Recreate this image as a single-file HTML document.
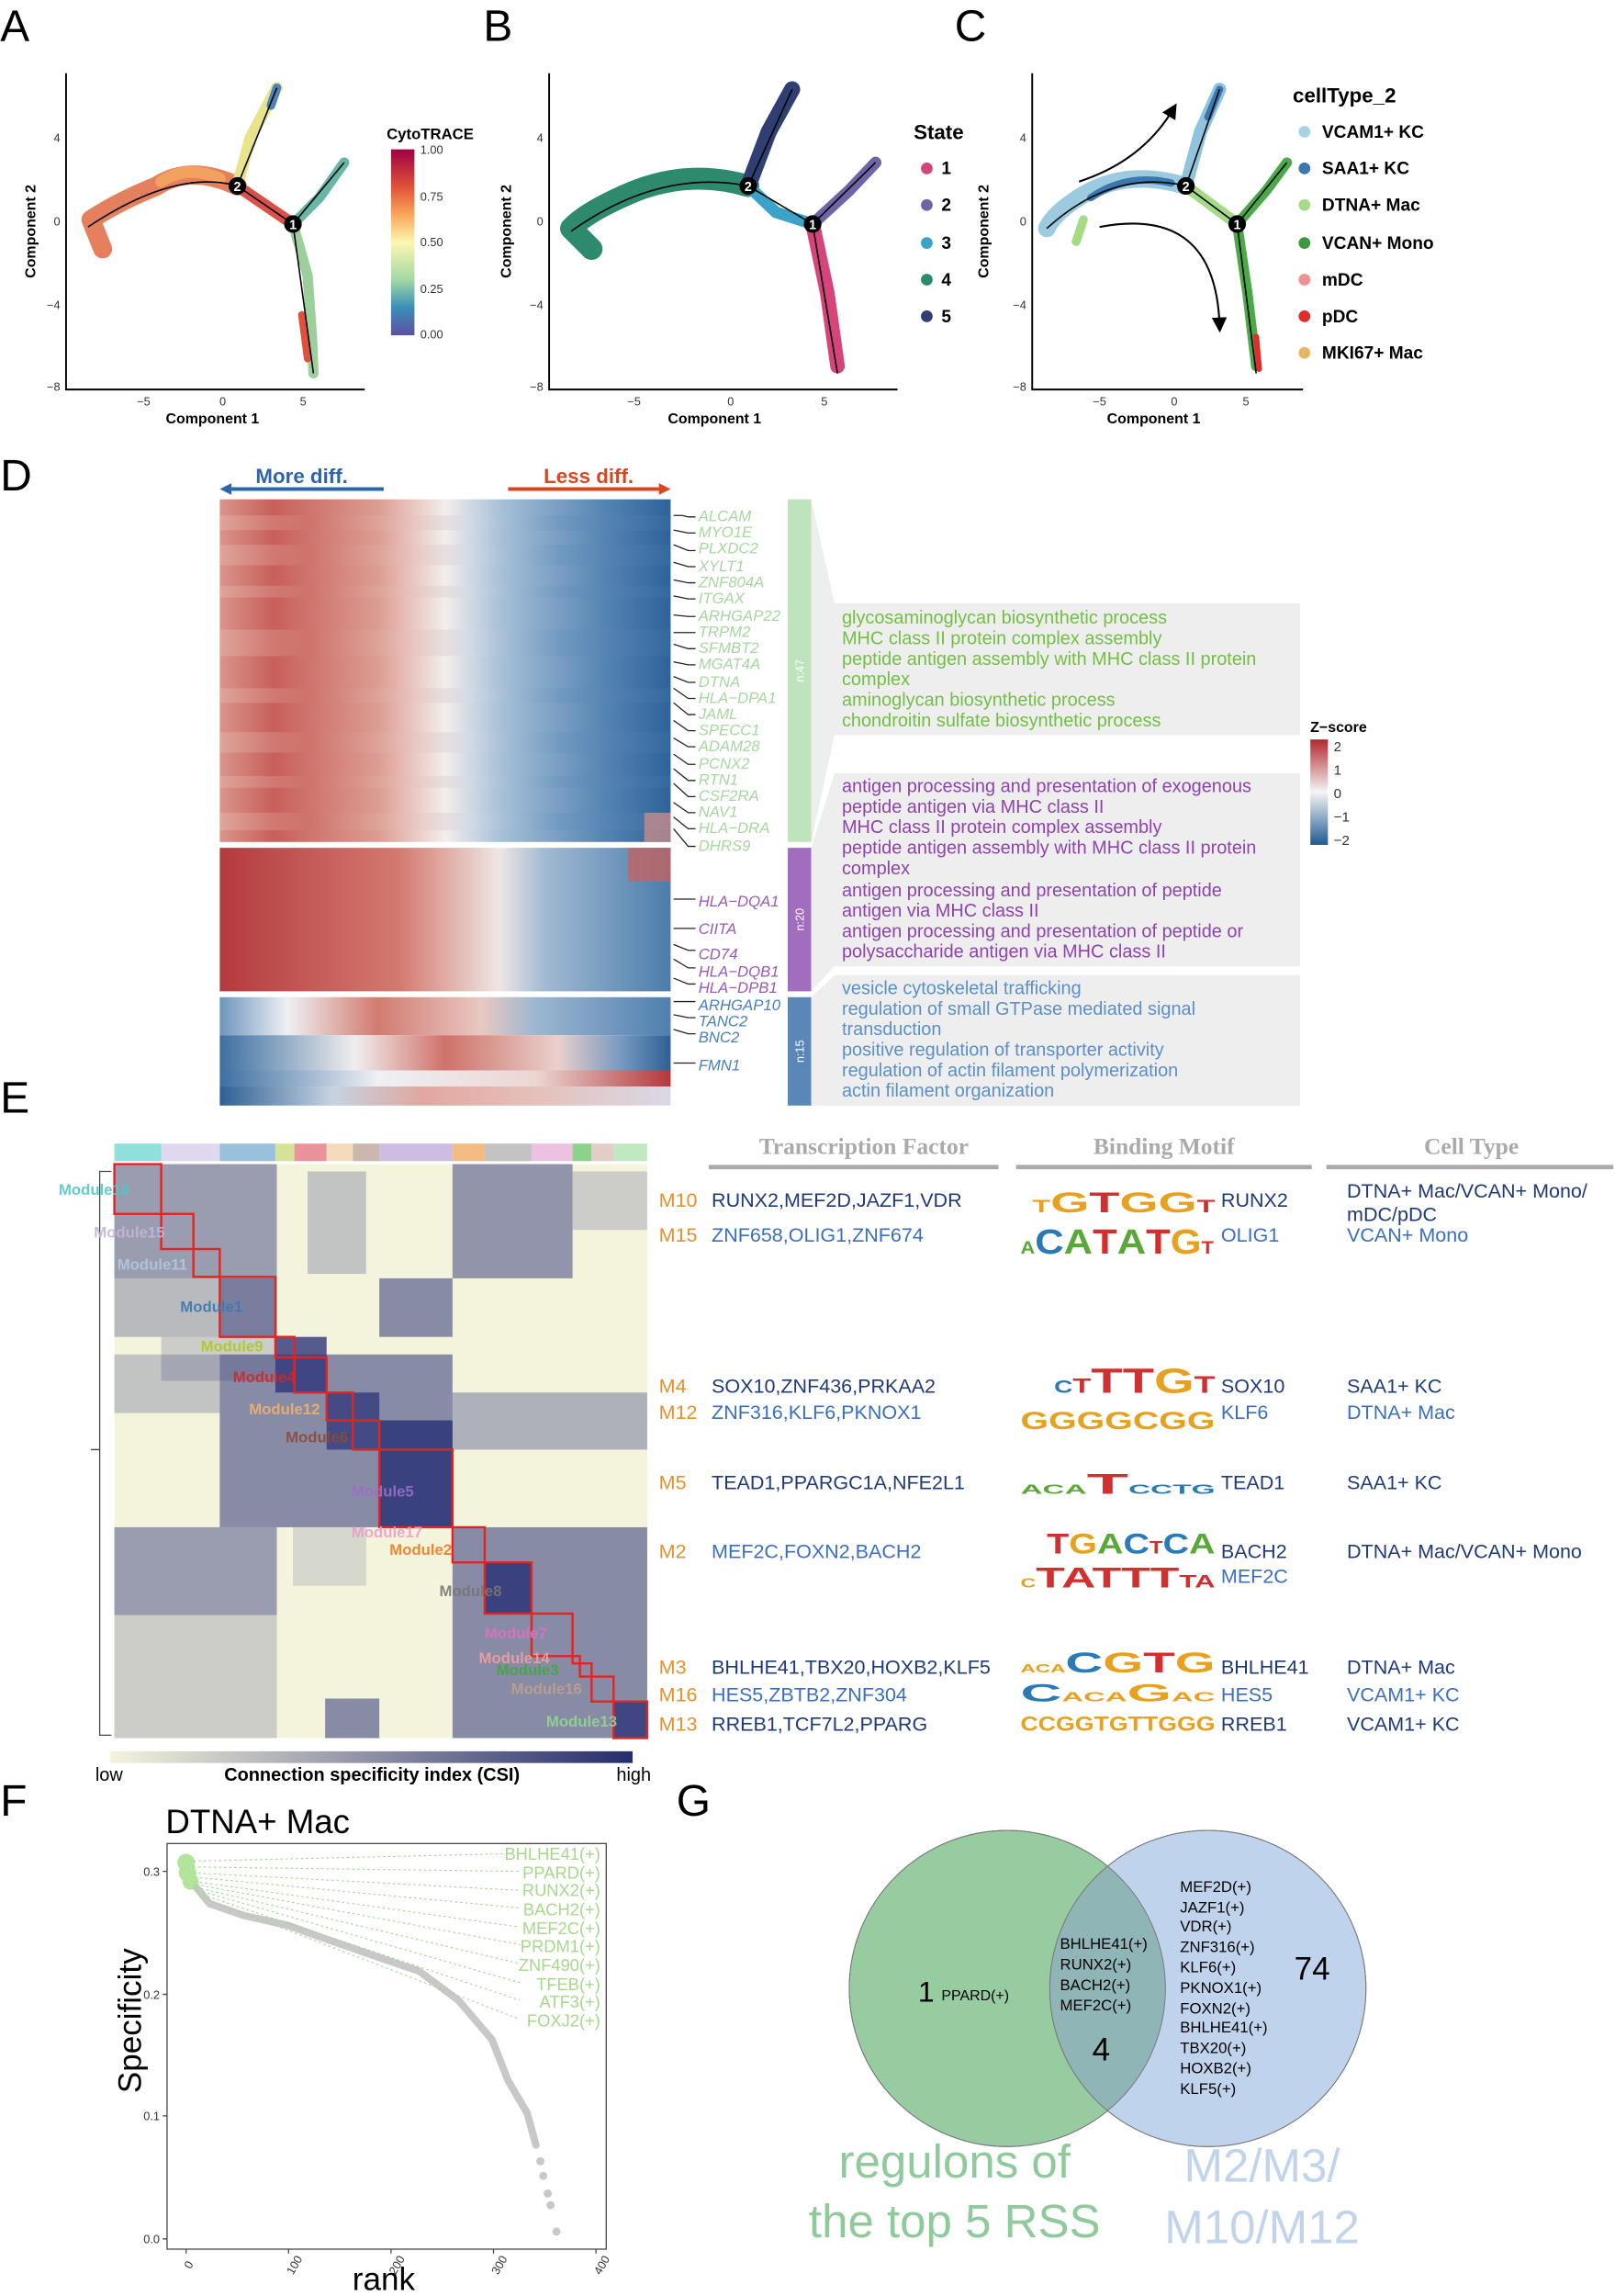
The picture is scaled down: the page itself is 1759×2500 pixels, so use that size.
<!DOCTYPE html>
<html><head><meta charset="utf-8"><style>
html,body{margin:0;padding:0;background:#fff}
svg{display:block;font-family:"Liberation Sans",sans-serif}
</style></head><body>
<svg width="1759" height="2500" viewBox="0 0 1103 1568" xmlns="http://www.w3.org/2000/svg">
<defs>
<linearGradient id="cyto" x1="0" y1="0" x2="0" y2="1">
<stop offset="0" stop-color="#9e0142"/><stop offset="0.2" stop-color="#e0503a"/><stop offset="0.35" stop-color="#f9a65a"/><stop offset="0.5" stop-color="#fdf7b0"/><stop offset="0.7" stop-color="#a3d9a4"/><stop offset="0.85" stop-color="#3a8fba"/><stop offset="1" stop-color="#5e4fa2"/></linearGradient>
<linearGradient id="zs" x1="0" y1="0" x2="0" y2="1">
<stop offset="0" stop-color="#b2282e"/><stop offset="0.5" stop-color="#f5f5f5"/><stop offset="1" stop-color="#1f5a92"/></linearGradient>
<linearGradient id="csi" x1="0" y1="0" x2="1" y2="0">
<stop offset="0" stop-color="#f4f4dc"/><stop offset="1" stop-color="#262c6e"/></linearGradient>
<linearGradient id="h1" x1="150" x2="458" gradientUnits="userSpaceOnUse">
<stop offset="0" stop-color="#d9958a"/><stop offset="0.12" stop-color="#c85f5a"/><stop offset="0.35" stop-color="#dc9c92"/><stop offset="0.5" stop-color="#f3eeec"/><stop offset="0.62" stop-color="#a9c1d8"/><stop offset="0.85" stop-color="#5685b3"/><stop offset="1" stop-color="#2d6399"/></linearGradient>
<linearGradient id="h1b" x1="150" x2="458" gradientUnits="userSpaceOnUse">
<stop offset="0" stop-color="#e3b3aa"/><stop offset="0.2" stop-color="#cf736b"/><stop offset="0.45" stop-color="#e9cbc5"/><stop offset="0.55" stop-color="#d5dde8"/><stop offset="0.75" stop-color="#6e97c0"/><stop offset="1" stop-color="#3a6ea3"/></linearGradient>
<linearGradient id="h2" x1="150" x2="458" gradientUnits="userSpaceOnUse">
<stop offset="0" stop-color="#b43a3f"/><stop offset="0.4" stop-color="#d47a70"/><stop offset="0.62" stop-color="#efe6e4"/><stop offset="0.72" stop-color="#a2bad3"/><stop offset="1" stop-color="#4b7cac"/></linearGradient>
<linearGradient id="h3a" x1="150" x2="458" gradientUnits="userSpaceOnUse">
<stop offset="0" stop-color="#6f95bd"/><stop offset="0.15" stop-color="#eef0f4"/><stop offset="0.35" stop-color="#d27b70"/><stop offset="0.58" stop-color="#e8c8c2"/><stop offset="0.7" stop-color="#9db7d1"/><stop offset="1" stop-color="#4f7fb0"/></linearGradient>
<linearGradient id="h3b" x1="150" x2="458" gradientUnits="userSpaceOnUse">
<stop offset="0" stop-color="#3d6fa2"/><stop offset="0.3" stop-color="#f0eeee"/><stop offset="0.5" stop-color="#cf726a"/><stop offset="0.75" stop-color="#ead0cc"/><stop offset="0.9" stop-color="#6f95bd"/><stop offset="1" stop-color="#2e5f93"/></linearGradient>
<linearGradient id="h3c" x1="150" x2="458" gradientUnits="userSpaceOnUse">
<stop offset="0" stop-color="#3d6fa2"/><stop offset="0.35" stop-color="#eef0f4"/><stop offset="0.7" stop-color="#ecd6d2"/><stop offset="1" stop-color="#b3383c"/></linearGradient>
<linearGradient id="h3d" x1="150" x2="458" gradientUnits="userSpaceOnUse">
<stop offset="0" stop-color="#2e5f93"/><stop offset="0.25" stop-color="#c6d3e2"/><stop offset="0.45" stop-color="#e0a8a0"/><stop offset="0.7" stop-color="#e6c0ba"/><stop offset="1" stop-color="#d9d9e6"/></linearGradient>
<marker id="ar" markerWidth="8" markerHeight="8" refX="4" refY="4" orient="auto"><path d="M0,0 L8,4 L0,8 Z" fill="#000"/></marker>
</defs>

<g font-size="30" fill="#000">
<text x="0" y="28">A</text><text x="330" y="28">B</text><text x="652" y="28">C</text>
<text x="0" y="335">D</text><text x="0" y="760">E</text><text x="0" y="1240">F</text><text x="462" y="1240">G</text>
</g>

<g stroke="#000" stroke-width="1.2" fill="none">
<path d="M45,50 V266 H249"/><path d="M375,50 V266 H613"/><path d="M705,50 V266 H890"/>
</g>
<g font-size="8" fill="#333" text-anchor="middle">
<text x="98" y="277">−5</text><text x="152" y="277">0</text><text x="207" y="277">5</text>
<text x="433" y="277">−5</text><text x="499" y="277">0</text><text x="563" y="277">5</text>
<text x="751" y="277">−5</text><text x="802" y="277">0</text><text x="851" y="277">5</text>
</g>
<g font-size="8" fill="#333" text-anchor="end">
<text x="41" y="97">4</text><text x="41" y="154">0</text><text x="41" y="211">−4</text><text x="41" y="267">−8</text>
<text x="371" y="97">4</text><text x="371" y="154">0</text><text x="371" y="211">−4</text><text x="371" y="267">−8</text>
<text x="701" y="97">4</text><text x="701" y="154">0</text><text x="701" y="211">−4</text><text x="701" y="267">−8</text>
</g>
<g font-size="10" font-weight="bold" fill="#000" text-anchor="middle">
<text x="145" y="289">Component 1</text><text x="488" y="289">Component 1</text><text x="788" y="289">Component 1</text>
<text transform="translate(24,158) rotate(-90)">Component 2</text>
<text transform="translate(349,158) rotate(-90)">Component 2</text>
<text transform="translate(675,158) rotate(-90)">Component 2</text>
</g>
<g fill="none" stroke-linecap="round" stroke-linejoin="round">
<path d="M162,127 Q130,112 107,127 Q80,138 62,150 L70,170" stroke="#e06a42" stroke-width="13" opacity="0.85"/>
<path d="M150,122 Q128,112 110,124" stroke="#f2a25e" stroke-width="8"/>
<path d="M162,127 L171,94 L189,60" stroke="#e8e48c" stroke-width="8"/>
<path d="M185,72 L189,60" stroke="#4d84b9" stroke-width="6"/>
<path d="M162,127 L200,153" stroke="#d8524a" stroke-width="8"/>
<path d="M200,153 L218,135 L235,111" stroke="#68b6a8" stroke-width="7"/>
<path d="M200,153 L210,188 L213,230 L214,255" stroke="#9ccf9c" stroke-width="7"/>
<path d="M206,215 L210,245" stroke="#e0503a" stroke-width="5"/>
</g>
<g stroke="#000" stroke-width="1" fill="none"><path d="M162,127 L200,153 L214,255 M162,127 L189,60 M200,153 L235,111 M162,127 Q120,115 60,155"/></g>
<circle cx="162" cy="127" r="6" fill="#000"/><text x="162" y="130.5" font-size="9" fill="#fff" text-anchor="middle" font-weight="bold">2</text>
<circle cx="200" cy="153" r="6" fill="#000"/><text x="200" y="156.5" font-size="9" fill="#fff" text-anchor="middle" font-weight="bold">1</text>
<text x="264" y="95" font-size="10.5" font-weight="bold">CytoTRACE</text>
<rect x="267" y="102" width="16" height="127" fill="url(#cyto)"/>
<g font-size="8" fill="#333"><text x="287" y="105">1.00</text><text x="287" y="137">0.75</text><text x="287" y="168">0.50</text><text x="287" y="200">0.25</text><text x="287" y="231">0.00</text></g>

<g fill="none" stroke-linecap="round" stroke-linejoin="round">
<path d="M511,127 Q470,115 430,132 Q400,145 390,156 L404,170" stroke="#2e8a6f" stroke-width="15"/>
<path d="M511,127 L525,90 L541,61" stroke="#2f3f74" stroke-width="11"/>
<path d="M511,127 L530,145 L555,153" stroke="#3ba3c8" stroke-width="8"/>
<path d="M555,153 L580,130 L598,111" stroke="#6f64a8" stroke-width="8"/>
<path d="M555,153 L565,200 L572,250" stroke="#d6447c" stroke-width="10"/>
</g>
<g stroke="#000" stroke-width="1" fill="none"><path d="M511,127 L555,153 L572,255 M511,127 L541,61 M555,153 L598,111 M511,127 Q450,115 390,158"/></g>
<circle cx="511" cy="127" r="6" fill="#000"/><text x="511" y="130.5" font-size="9" fill="#fff" text-anchor="middle" font-weight="bold">2</text>
<circle cx="555" cy="153" r="6" fill="#000"/><text x="555" y="156.5" font-size="9" fill="#fff" text-anchor="middle" font-weight="bold">1</text>
<text x="624" y="95" font-size="14" font-weight="bold">State</text>
<g font-size="12" font-weight="bold">
<circle cx="633" cy="115" r="4" fill="#d6447c"/><text x="643" y="119">1</text>
<circle cx="633" cy="140" r="4" fill="#6f64a8"/><text x="643" y="144">2</text>
<circle cx="633" cy="166" r="4" fill="#3ba3c8"/><text x="643" y="170">3</text>
<circle cx="633" cy="191" r="4" fill="#2e8a6f"/><text x="643" y="195">4</text>
<circle cx="633" cy="216" r="4" fill="#2f3f74"/><text x="643" y="220">5</text>
</g>

<g fill="none" stroke-linecap="round" stroke-linejoin="round">
<path d="M810,127 Q770,115 740,133 Q720,145 715,156" stroke="#9ccbe0" stroke-width="12"/>
<path d="M800,125 Q770,118 745,135" stroke="#3b78b0" stroke-width="5"/>
<path d="M740,150 L735,165" stroke="#a6db86" stroke-width="6"/>
<path d="M810,127 L820,90 L833,61" stroke="#8fc4de" stroke-width="9"/>
<path d="M825,80 L833,61" stroke="#3b78b0" stroke-width="5"/>
<path d="M810,127 L845,153" stroke="#a6db86" stroke-width="8"/>
<path d="M845,153 L865,130 L879,111" stroke="#4ba94a" stroke-width="7"/>
<path d="M845,153 L852,200 L858,250" stroke="#4ba94a" stroke-width="7"/>
<path d="M858,230 L860,252" stroke="#e22b2b" stroke-width="4"/>
</g>
<g stroke="#000" stroke-width="1" fill="none"><path d="M810,127 L845,153 L858,255 M810,127 L833,61 M845,153 L879,111 M810,127 Q760,115 715,156"/></g>
<circle cx="810" cy="127" r="6" fill="#000"/><text x="810" y="130.5" font-size="9" fill="#fff" text-anchor="middle" font-weight="bold">2</text>
<circle cx="845" cy="153" r="6" fill="#000"/><text x="845" y="156.5" font-size="9" fill="#fff" text-anchor="middle" font-weight="bold">1</text>
<path d="M737,124 Q780,110 801,75" stroke="#000" stroke-width="1.3" fill="none" marker-end="url(#ar)"/>
<path d="M751,155 Q830,140 833,222" stroke="#000" stroke-width="1.3" fill="none" marker-end="url(#ar)"/>
<text x="883" y="70" font-size="14" font-weight="bold">cellType_2</text>
<g font-size="12" font-weight="bold">
<circle cx="891" cy="90" r="4" fill="#a6d2e3"/><text x="903" y="94">VCAM1+ KC</text>
<circle cx="891" cy="115" r="4" fill="#3b78b0"/><text x="903" y="119">SAA1+ KC</text>
<circle cx="891" cy="140" r="4" fill="#a6db86"/><text x="903" y="144">DTNA+ Mac</text>
<circle cx="891" cy="166" r="4" fill="#3c9a3c"/><text x="903" y="170">VCAN+ Mono</text>
<circle cx="891" cy="191" r="4" fill="#ef9095"/><text x="903" y="195">mDC</text>
<circle cx="891" cy="216" r="4" fill="#e22b2b"/><text x="903" y="220">pDC</text>
<circle cx="891" cy="241" r="4" fill="#e8b466"/><text x="903" y="245">MKI67+ Mac</text>
</g>

<!-- Panel D -->
<path d="M262,334 H158" stroke="#2d65a8" stroke-width="2.5"/><path d="M150,334 L158,330 L158,338 Z" fill="#2d65a8"/>
<text x="206" y="330" font-size="14" font-weight="bold" fill="#2d65a8" text-anchor="middle">More diff.</text>
<path d="M347,334 H450" stroke="#d4471f" stroke-width="2.5"/><path d="M458,334 L450,330 L450,338 Z" fill="#d4471f"/>
<text x="402" y="330" font-size="14" font-weight="bold" fill="#d4471f" text-anchor="middle">Less diff.</text>
<rect x="150" y="341" width="308" height="234" fill="url(#h1)"/>
<g opacity="0.55">
<rect x="150" y="352" width="308" height="10" fill="url(#h1b)"/>
<rect x="150" y="372" width="308" height="14" fill="url(#h1b)"/>
<rect x="150" y="400" width="308" height="8" fill="url(#h1b)"/>
<rect x="150" y="430" width="308" height="18" fill="url(#h1b)"/>
<rect x="150" y="470" width="308" height="10" fill="url(#h1b)"/>
<rect x="150" y="500" width="308" height="14" fill="url(#h1b)"/>
<rect x="150" y="530" width="308" height="8" fill="url(#h1b)"/>
<rect x="150" y="555" width="308" height="12" fill="url(#h1b)"/>
</g>
<rect x="440" y="555" width="18" height="20" fill="#d99088" opacity="0.7"/>
<rect x="150" y="579" width="308" height="98" fill="url(#h2)"/>
<rect x="429" y="579" width="29" height="23" fill="#c9625d" opacity="0.75"/>
<rect x="150" y="681" width="308" height="26" fill="url(#h3a)"/>
<rect x="150" y="707" width="308" height="24" fill="url(#h3b)"/>
<rect x="150" y="731" width="308" height="11" fill="url(#h3c)"/>
<rect x="150" y="742" width="308" height="13" fill="url(#h3d)"/>
<g font-size="10.5" font-style="italic" fill="#a7d7a0">
<text x="477" y="356">ALCAM</text><text x="477" y="367">MYO1E</text><text x="477" y="378">PLXDC2</text><text x="477" y="390">XYLT1</text><text x="477" y="401">ZNF804A</text><text x="477" y="412">ITGAX</text><text x="477" y="424">ARHGAP22</text><text x="477" y="435">TRPM2</text><text x="477" y="446">SFMBT2</text><text x="477" y="457">MGAT4A</text><text x="477" y="469">DTNA</text><text x="477" y="480">HLA−DPA1</text><text x="477" y="491">JAML</text><text x="477" y="502">SPECC1</text><text x="477" y="513">ADAM28</text><text x="477" y="525">PCNX2</text><text x="477" y="536">RTN1</text><text x="477" y="547">CSF2RA</text><text x="477" y="558">NAV1</text><text x="477" y="569">HLA−DRA</text><text x="477" y="581">DHRS9</text>
</g>
<g stroke="#222" stroke-width="0.8" fill="none">
<path d="M460,352 H466 L470,353 H475 M460,362 L470,364 H475 M460,372 L470,376 H475 M460,384 L470,387 H475 M460,396 L470,398 H475 M460,407 L470,409 H475 M460,420 L470,421 H475 M460,432 L470,432 H475 M460,440 L470,443 H475 M460,452 L470,454 H475 M460,462 L470,466 H475 M460,470 L470,477 H475 M460,480 L470,488 H475 M460,492 L470,499 H475 M460,504 L470,510 H475 M460,515 L470,522 H475 M460,525 L470,533 H475 M460,535 L470,544 H475 M460,548 L470,555 H475 M460,558 L470,566 H475 M460,566 L470,578 H475"/>
<path d="M460,614 H475 M460,634 H475 M460,645 L470,649 H475 M460,655 L470,661 H475 M460,668 L470,672 H475 M460,684 L470,684 H475 M460,693 L470,695 H475 M460,703 L470,706 H475 M460,726 H475"/>
</g>
<g font-size="10.5" font-style="italic" fill="#9b59b6">
<text x="477" y="619">HLA−DQA1</text><text x="477" y="638">CIITA</text><text x="477" y="655">CD74</text><text x="477" y="667">HLA−DQB1</text><text x="477" y="678">HLA−DPB1</text>
</g>
<g font-size="10.5" font-style="italic" fill="#4a7fbf">
<text x="477" y="690">ARHGAP10</text><text x="477" y="701">TANC2</text><text x="477" y="712">BNC2</text><text x="477" y="731">FMN1</text>
</g>
<rect x="538" y="341" width="16" height="234" fill="#bfe3bb"/>
<rect x="538" y="579" width="16" height="98" fill="#a36dbf"/>
<rect x="538" y="681" width="16" height="74" fill="#5a86b8"/>
<g font-size="8" fill="#fff" text-anchor="middle">
<text transform="translate(549,458) rotate(-90)">n:47</text>
<text transform="translate(549,628) rotate(-90)">n:20</text>
<text transform="translate(549,718) rotate(-90)">n:15</text>
</g>
<g fill="#eeeeee">
<path d="M554,341 L570,412 V502 L554,575 Z"/>
<rect x="570" y="412" width="318" height="90"/>
<path d="M554,579 L570,528 V660 L554,677 Z"/>
<rect x="570" y="528" width="318" height="132"/>
<path d="M554,681 L570,666 V755 L554,755 Z"/>
<rect x="570" y="666" width="318" height="89"/>
</g>
<g font-size="12.5" fill="#72bf44">
<text x="575" y="426">glycosaminoglycan biosynthetic process</text>
<text x="575" y="440">MHC class II protein complex assembly</text>
<text x="575" y="454">peptide antigen assembly with MHC class II protein</text>
<text x="575" y="468">complex</text>
<text x="575" y="482">aminoglycan biosynthetic process</text>
<text x="575" y="496">chondroitin sulfate biosynthetic process</text>
</g>
<g font-size="12.5" fill="#8e44ad">
<text x="575" y="541">antigen processing and presentation of exogenous</text>
<text x="575" y="555">peptide antigen via MHC class II</text>
<text x="575" y="569">MHC class II protein complex assembly</text>
<text x="575" y="583">peptide antigen assembly with MHC class II protein</text>
<text x="575" y="597">complex</text>
<text x="575" y="612">antigen processing and presentation of peptide</text>
<text x="575" y="626">antigen via MHC class II</text>
<text x="575" y="640">antigen processing and presentation of peptide or</text>
<text x="575" y="654">polysaccharide antigen via MHC class II</text>
</g>
<g font-size="12.5" fill="#5b8fc8">
<text x="575" y="679">vesicle cytoskeletal trafficking</text>
<text x="575" y="693">regulation of small GTPase mediated signal</text>
<text x="575" y="707">transduction</text>
<text x="575" y="721">positive regulation of transporter activity</text>
<text x="575" y="735">regulation of actin filament polymerization</text>
<text x="575" y="749">actin filament organization</text>
</g>
<text x="895" y="500" font-size="10" font-weight="bold">Z−score</text>
<rect x="895" y="505" width="12" height="72" fill="url(#zs)"/>
<g font-size="9.5" fill="#333"><text x="911" y="513">2</text><text x="911" y="529">1</text><text x="911" y="545">0</text><text x="911" y="561">−1</text><text x="911" y="577">−2</text></g>

<!-- Panel E heatmap -->
<rect x="78" y="795" width="364" height="392" fill="#f4f4dc"/>
<g fill="#2d3478">
<rect x="78" y="795" width="111" height="78" opacity="0.45"/>
<rect x="309" y="795" width="82" height="78" opacity="0.5"/>
<rect x="391" y="800" width="51" height="40" opacity="0.2"/>
<rect x="210" y="800" width="40" height="70" opacity="0.25"/>
<rect x="78" y="873" width="111" height="40" opacity="0.3"/>
<rect x="259" y="873" width="50" height="40" opacity="0.55"/>
<rect x="150" y="925" width="159" height="118" opacity="0.55"/>
<rect x="78" y="925" width="72" height="40" opacity="0.25"/>
<rect x="259" y="970" width="50" height="73" opacity="0.85"/>
<rect x="188" y="913" width="35" height="38" opacity="0.8"/>
<rect x="223" y="951" width="36" height="39" opacity="0.75"/>
<rect x="309" y="951" width="133" height="39" opacity="0.35"/>
<rect x="78" y="1043" width="111" height="60" opacity="0.45"/>
<rect x="78" y="1103" width="111" height="84" opacity="0.2"/>
<rect x="309" y="1043" width="133" height="144" opacity="0.55"/>
<rect x="331" y="1067" width="32" height="35" opacity="0.85"/>
<rect x="222" y="1160" width="37" height="27" opacity="0.55"/>
<rect x="419" y="1162" width="23" height="25" opacity="0.8"/>
<rect x="200" y="1043" width="50" height="40" opacity="0.15"/>
<rect x="150" y="873" width="39" height="40" opacity="0.45"/>
<rect x="110" y="913" width="78" height="30" opacity="0.2"/>
</g>
<g fill="none" stroke="#e8231f" stroke-width="1.5">
<rect x="78" y="795" width="32" height="34"/><rect x="110" y="829" width="22" height="24"/><rect x="132" y="853" width="18" height="19"/><rect x="150" y="872" width="38" height="41"/><rect x="188" y="913" width="13" height="14"/><rect x="201" y="927" width="22" height="24"/><rect x="223" y="951" width="18" height="19"/><rect x="241" y="970" width="18" height="20"/><rect x="259" y="990" width="50" height="53"/><rect x="309" y="1043" width="22" height="24"/><rect x="331" y="1067" width="32" height="35"/><rect x="363" y="1102" width="28" height="29"/><rect x="391" y="1131" width="5" height="5"/><rect x="396" y="1136" width="8" height="9"/><rect x="404" y="1145" width="15" height="17"/><rect x="419" y="1162" width="23" height="25"/>
</g>
<g opacity="0.7">
<rect x="78" y="781" width="32" height="12" fill="#5fd3d0"/><rect x="110" y="781" width="40" height="12" fill="#d4c8e8"/><rect x="150" y="781" width="38" height="12" fill="#6fa7cf"/><rect x="188" y="781" width="13" height="12" fill="#c6d66c"/><rect x="201" y="781" width="22" height="12" fill="#e0656e"/><rect x="223" y="781" width="18" height="12" fill="#f2cda0"/><rect x="241" y="781" width="18" height="12" fill="#b79a8c"/><rect x="259" y="781" width="50" height="12" fill="#b8a0d8"/><rect x="309" y="781" width="22" height="12" fill="#f0a050"/><rect x="331" y="781" width="32" height="12" fill="#aaaaaa"/><rect x="363" y="781" width="28" height="12" fill="#e8a8d8"/><rect x="391" y="781" width="13" height="12" fill="#5bbf5b"/><rect x="404" y="781" width="15" height="12" fill="#d8b8b0"/><rect x="419" y="781" width="23" height="12" fill="#a8e0a8"/>
</g>
<path d="M76,800 H68 V1185 H76 M68,990 H62" stroke="#444" stroke-width="0.8" fill="none"/>
<g font-size="10.5" font-weight="bold" opacity="0.9">
<text x="40" y="816" fill="#4fc8c8">Module10</text><text x="64" y="845" fill="#c4b4dc">Module15</text><text x="80" y="867" fill="#b0c8e0">Module11</text><text x="123" y="896" fill="#3b78b0">Module1</text><text x="137" y="923" fill="#b0c820">Module9</text><text x="159" y="944" fill="#d02828">Module4</text><text x="170" y="966" fill="#f0b070">Module12</text><text x="195" y="985" fill="#8b4a3a">Module6</text><text x="240" y="1022" fill="#9b6fc8">Module5</text><text x="240" y="1050" fill="#e8a0c8">Module17</text><text x="266" y="1062" fill="#f07a20">Module2</text><text x="300" y="1090" fill="#777">Module8</text><text x="331" y="1119" fill="#e070c0">Module7</text><text x="327" y="1136" fill="#f0a0a0">Module14</text><text x="339" y="1144" fill="#40a840">Module3</text><text x="349" y="1157" fill="#c0a090">Module16</text><text x="373" y="1179" fill="#90d890">Module13</text>
</g>
<rect x="75" y="1196" width="357" height="8" fill="url(#csi)"/>
<text x="65" y="1216" font-size="12.5">low</text>
<text x="254" y="1216" font-size="12.5" font-weight="bold" text-anchor="middle">Connection specificity index (CSI)</text>
<text x="421" y="1216" font-size="12.5">high</text>

<!-- E table -->
<g font-family="Liberation Serif,serif" font-size="16" fill="#aaa" text-anchor="middle" font-weight="bold">
<text x="590" y="788">Transcription Factor</text><text x="795" y="788">Binding Motif</text><text x="1005" y="788">Cell Type</text>
</g>
<g stroke="#aaa" stroke-width="3"><path d="M484,797 H682 M694,797 H896 M906,797 H1102"/></g>
<g font-size="13.5">
<g fill="#e9902a"><text x="450" y="824">M10</text><text x="450" y="848">M15</text><text x="450" y="951">M4</text><text x="450" y="969">M12</text><text x="450" y="1017">M5</text><text x="450" y="1064">M2</text><text x="450" y="1143">M3</text><text x="450" y="1162">M16</text><text x="450" y="1182">M13</text></g>
<text x="486" y="824" fill="#1f3a78">RUNX2,MEF2D,JAZF1,VDR</text>
<text x="486" y="848" fill="#3a6fc0">ZNF658,OLIG1,ZNF674</text>
<text x="486" y="951" fill="#1f3a78">SOX10,ZNF436,PRKAA2</text>
<text x="486" y="969" fill="#3a6fc0">ZNF316,KLF6,PKNOX1</text>
<text x="486" y="1017" fill="#1f3a78">TEAD1,PPARGC1A,NFE2L1</text>
<text x="486" y="1064" fill="#3a6fc0">MEF2C,FOXN2,BACH2</text>
<text x="486" y="1143" fill="#1f3a78">BHLHE41,TBX20,HOXB2,KLF5</text>
<text x="486" y="1162" fill="#3a6fc0">HES5,ZBTB2,ZNF304</text>
<text x="486" y="1182" fill="#1f3a78">RREB1,TCF7L2,PPARG</text>
<g fill="#1f3a78"><text x="834" y="824">RUNX2</text><text x="834" y="951">SOX10</text><text x="834" y="1017">TEAD1</text><text x="834" y="1064">BACH2</text><text x="834" y="1143">BHLHE41</text><text x="834" y="1182">RREB1</text></g>
<g fill="#3a6fc0"><text x="834" y="848">OLIG1</text><text x="834" y="969">KLF6</text><text x="834" y="1081">MEF2C</text><text x="834" y="1162">HES5</text></g>
<g fill="#1f3a78"><text x="920" y="818">DTNA+ Mac/VCAN+ Mono/</text><text x="920" y="834">mDC/pDC</text><text x="920" y="951">SAA1+ KC</text><text x="920" y="1017">SAA1+ KC</text><text x="920" y="1064">DTNA+ Mac/VCAN+ Mono</text><text x="920" y="1143">DTNA+ Mac</text><text x="920" y="1182">VCAM1+ KC</text></g>
<g fill="#3a6fc0"><text x="920" y="848">VCAN+ Mono</text><text x="920" y="969">DTNA+ Mac</text><text x="920" y="1162">VCAM1+ KC</text></g>
</g>
<g font-weight="bold">
<text x="705" y="828" font-size="20" textLength="125" lengthAdjust="spacingAndGlyphs"><tspan fill="#e8a020" font-size="12">T</tspan><tspan fill="#e8a020">G</tspan><tspan fill="#d03030">T</tspan><tspan fill="#e8a020">GG</tspan><tspan fill="#d03030" font-size="12">T</tspan></text>
<text x="697" y="856" font-size="24" textLength="132" lengthAdjust="spacingAndGlyphs"><tspan fill="#5aa83a" font-size="12">A</tspan><tspan fill="#2a7ab8">C</tspan><tspan fill="#5aa83a">A</tspan><tspan fill="#d03030">T</tspan><tspan fill="#5aa83a">A</tspan><tspan fill="#d03030">T</tspan><tspan fill="#e8a020">G</tspan><tspan fill="#d03030" font-size="12">T</tspan></text>
<text x="720" y="951" font-size="24" textLength="110" lengthAdjust="spacingAndGlyphs"><tspan fill="#2a7ab8" font-size="12">C</tspan><tspan fill="#d03030" font-size="14">T</tspan><tspan fill="#d03030">TT</tspan><tspan fill="#e8a020">G</tspan><tspan fill="#d03030" font-size="16">T</tspan></text>
<text x="697" y="976" font-size="17" textLength="133" lengthAdjust="spacingAndGlyphs" fill="#e8a020">GGGGCGG</text>
<text x="697" y="1020" font-size="20" textLength="133" lengthAdjust="spacingAndGlyphs"><tspan fill="#5aa83a" font-size="9">ACA</tspan><tspan fill="#d03030">T</tspan><tspan fill="#2a7ab8" font-size="9">CCTG</tspan></text>
<text x="715" y="1061" font-size="20" textLength="115" lengthAdjust="spacingAndGlyphs"><tspan fill="#d03030">T</tspan><tspan fill="#e8a020">G</tspan><tspan fill="#5aa83a">A</tspan><tspan fill="#2a7ab8">C</tspan><tspan fill="#d03030" font-size="12">T</tspan><tspan fill="#2a7ab8">C</tspan><tspan fill="#5aa83a">A</tspan></text>
<text x="697" y="1084" font-size="20" textLength="133" lengthAdjust="spacingAndGlyphs"><tspan fill="#e8a020" font-size="9">C</tspan><tspan fill="#d03030">TATTT</tspan><tspan fill="#d03030" font-size="12">TA</tspan></text>
<text x="697" y="1142" font-size="20" textLength="133" lengthAdjust="spacingAndGlyphs"><tspan fill="#e8a020" font-size="8">ACA</tspan><tspan fill="#2a7ab8">C</tspan><tspan fill="#e8a020">G</tspan><tspan fill="#d03030">T</tspan><tspan fill="#e8a020">G</tspan></text>
<text x="697" y="1162" font-size="17" textLength="133" lengthAdjust="spacingAndGlyphs"><tspan fill="#2a7ab8">C</tspan><tspan fill="#e8a020" font-size="9">ACA</tspan><tspan fill="#e8a020">G</tspan><tspan fill="#e8a020" font-size="9">AC</tspan></text>
<text x="697" y="1182" font-size="14" textLength="133" lengthAdjust="spacingAndGlyphs" fill="#e8a020">CCGGTGTTGGG</text>
</g>

<!-- Panel F -->
<text x="113" y="1252" font-size="23">DTNA+ Mac</text>
<rect x="114" y="1259" width="300" height="277" fill="none" stroke="#444" stroke-width="0.8"/>
<g stroke="#444" stroke-width="0.8"><path d="M111,1278 H114 M111,1362 H114 M111,1445 H114 M111,1529 H114 M127,1536 V1539 M197,1536 V1539 M267,1536 V1539 M337,1536 V1539 M407,1536 V1539"/></g>
<g font-size="8" text-anchor="end" fill="#333"><text x="109" y="1281">0.3</text><text x="109" y="1365">0.2</text><text x="109" y="1448">0.1</text><text x="109" y="1532">0.0</text></g>
<g font-size="8" fill="#333">
<text transform="translate(130,1550) rotate(-60)">0</text><text transform="translate(200,1554) rotate(-60)">100</text><text transform="translate(270,1554) rotate(-60)">200</text><text transform="translate(340,1554) rotate(-60)">300</text><text transform="translate(410,1554) rotate(-60)">400</text>
</g>
<text transform="translate(96,1380) rotate(-90)" font-size="22" text-anchor="middle">Specificity</text>
<text x="262" y="1564" font-size="22" text-anchor="middle">rank</text>
<polyline points="134,1289 143,1300 166,1308 197,1315 222,1324 268,1340 286,1346 313,1366 336,1393 347,1421 360,1443 366,1465" stroke="#c8c8c8" stroke-width="5" fill="none" stroke-linecap="round" stroke-linejoin="round"/>
<g fill="#c8c8c8"><circle cx="369" cy="1476" r="2.8"/><circle cx="371" cy="1486" r="2.8"/><circle cx="374" cy="1498" r="2.8"/><circle cx="376" cy="1506" r="2.8"/><circle cx="380" cy="1524" r="2.8"/></g>
<g stroke="#9ad88a" stroke-width="0.7" stroke-dasharray="1.5,2">
<path d="M132,1271 L345,1266 M132,1275 L355,1278 M132,1279 L355,1291 M133,1282 L355,1303 M133,1285 L355,1316 M134,1287 L355,1328 M134,1289 L355,1341 M135,1291 L355,1354 M135,1293 L355,1366 M136,1295 L355,1379"/>
</g>
<g fill="#a6e08a" opacity="0.85"><circle cx="127" cy="1272" r="6"/><circle cx="128" cy="1279" r="6"/><circle cx="130" cy="1285" r="5.5"/></g>
<g font-size="11.5" fill="#a6d88a" text-anchor="end">
<text x="410" y="1270">BHLHE41(+)</text><text x="410" y="1283">PPARD(+)</text><text x="410" y="1295">RUNX2(+)</text><text x="410" y="1308">BACH2(+)</text><text x="410" y="1321">MEF2C(+)</text><text x="410" y="1333">PRDM1(+)</text><text x="410" y="1346">ZNF490(+)</text><text x="410" y="1359">TFEB(+)</text><text x="410" y="1371">ATF3(+)</text><text x="410" y="1384">FOXJ2(+)</text>
</g>

<!-- Panel G -->
<clipPath id="cg"><circle cx="688" cy="1358" r="108"/></clipPath>
<circle cx="688" cy="1358" r="108" fill="#97cba0" stroke="#777" stroke-width="0.6"/>
<circle cx="825" cy="1358" r="108" fill="#c0d3ec" stroke="#777" stroke-width="0.6"/>
<circle cx="825" cy="1358" r="108" fill="#8fb5b7" clip-path="url(#cg)"/>
<path d="M825,1250 A108,108 0 0 0 825,1466" fill="none"/>
<circle cx="688" cy="1358" r="108" fill="none" stroke="#777" stroke-width="0.6"/>
<circle cx="825" cy="1358" r="108" fill="none" stroke="#777" stroke-width="0.6"/>
<text x="627" y="1367" font-size="20">1</text><text x="643" y="1366" font-size="10">PPARD(+)</text>
<g font-size="10.5"><text x="724" y="1331">BHLHE41(+)</text><text x="724" y="1345">RUNX2(+)</text><text x="724" y="1359">BACH2(+)</text><text x="724" y="1373">MEF2C(+)</text></g>
<text x="746" y="1407" font-size="22">4</text>
<g font-size="10.5"><text x="806" y="1292">MEF2D(+)</text><text x="806" y="1306">JAZF1(+)</text><text x="806" y="1319">VDR(+)</text><text x="806" y="1333">ZNF316(+)</text><text x="806" y="1347">KLF6(+)</text><text x="806" y="1361">PKNOX1(+)</text><text x="806" y="1375">FOXN2(+)</text><text x="806" y="1388">BHLHE41(+)</text><text x="806" y="1402">TBX20(+)</text><text x="806" y="1416">HOXB2(+)</text><text x="806" y="1430">KLF5(+)</text></g>
<text x="884" y="1352" font-size="22">74</text>
<g font-size="32" fill="#90c99b" text-anchor="middle"><text x="652" y="1487">regulons of</text><text x="652" y="1528">the top 5 RSS</text></g>
<g font-size="32" fill="#c2d4ec" text-anchor="middle"><text x="862" y="1490">M2/M3/</text><text x="862" y="1532">M10/M12</text></g>
</svg>
</body></html>
